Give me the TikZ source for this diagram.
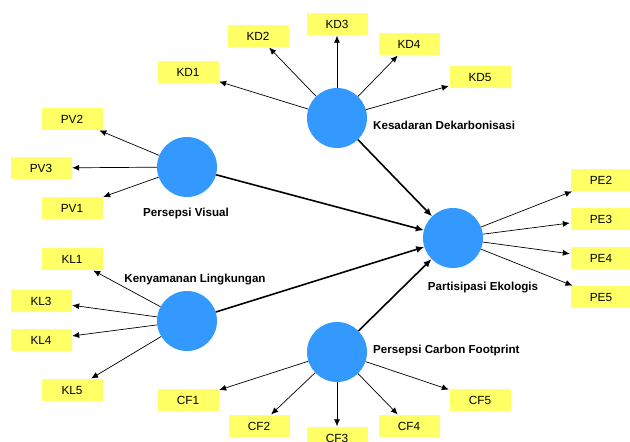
\documentclass[tikz,border=0pt]{standalone}
\usepackage{fontspec}
\setmainfont{Liberation Sans}
\usetikzlibrary{arrows.meta}
\definecolor{lvblue}{RGB}{51,153,255}
\definecolor{indyellow}{RGB}{255,255,102}
\tikzset{
  lv/.style={circle, fill=lvblue, minimum size=60pt, inner sep=0pt},
  ind/.style={rectangle, fill=indyellow, minimum width=61pt, minimum height=22pt, inner sep=0pt, font=\fontsize{11.8}{13}\selectfont},
  lvlabel/.style={font=\bfseries\fontsize{11.6}{13}\selectfont, inner sep=0pt},
  load/.style={-{Latex[length=7pt,width=6pt]}, line width=0.7pt, shorten >=0.5pt},
  path/.style={-{Latex[length=8pt,width=7pt]}, line width=1.6pt},
}
\begin{document}
\begin{tikzpicture}[x=1pt,y=-1pt]
\useasboundingbox (0,0) rectangle (630,442);
% latent variables
\node[lv] (KD) at (337,118) {};
\node[lv] (PV) at (187,167) {};
\node[lv] (KL) at (187,321) {};
\node[lv] (CF) at (337,352) {};
\node[lv] (PE) at (453,238) {};
% labels
\node[lvlabel, anchor=west] (KDl) at (373,125) {Kesadaran Dekarbonisasi};
\node[lvlabel] (PVl) at (186,213) {Persepsi Visual};
\node[lvlabel] (KLl) at (195,280) {Kenyamanan Lingkungan};
\node[lvlabel, anchor=west] (CFl) at (373,350) {Persepsi Carbon Footprint};
\node[lvlabel] (PEl) at (483,288) {Partisipasi Ekologis};
% indicators
\node[ind] (KD1) at (188,72) {KD1};
\node[ind] (KD2) at (258,36) {KD2};
\node[ind] (KD3) at (337,24) {KD3};
\node[ind] (KD4) at (409,44) {KD4};
\node[ind] (KD5) at (480,77) {KD5};
\node[ind] (PV2) at (72,119) {PV2};
\node[ind] (PV3) at (41,168) {PV3};
\node[ind] (PV1) at (72,208) {PV1};
\node[ind] (KL1) at (72,259) {KL1};
\node[ind] (KL3) at (41,301) {KL3};
\node[ind] (KL4) at (41,340) {KL4};
\node[ind] (KL5) at (72,390) {KL5};
\node[ind] (CF1) at (188,400) {CF1};
\node[ind] (CF2) at (259,426) {CF2};
\node[ind] (CF3) at (337,438) {CF3};
\node[ind] (CF4) at (409,426) {CF4};
\node[ind] (CF5) at (480,400) {CF5};
\node[ind] (PE2) at (601,180) {PE2};
\node[ind] (PE3) at (601,219) {PE3};
\node[ind] (PE4) at (601,258) {PE4};
\node[ind] (PE5) at (601,297) {PE5};
% loadings
\foreach \i in {KD1,KD2,KD3,KD4,KD5} \draw[load] (KD) -- (\i);
\foreach \i in {PV1,PV2,PV3} \draw[load] (PV) -- (\i);
\foreach \i in {KL1,KL3,KL4,KL5} \draw[load] (KL) -- (\i);
\foreach \i in {CF1,CF2,CF3,CF4,CF5} \draw[load] (CF) -- (\i);
\foreach \i in {PE2,PE3,PE4,PE5} \draw[load] (PE) -- (\i);
% structural paths
\draw[path] (KD) -- (PE);
\draw[path] (PV) -- (PE);
\draw[path] (KL) -- (PE);
\draw[path] (CF) -- (PE);
\end{tikzpicture}
\end{document}
